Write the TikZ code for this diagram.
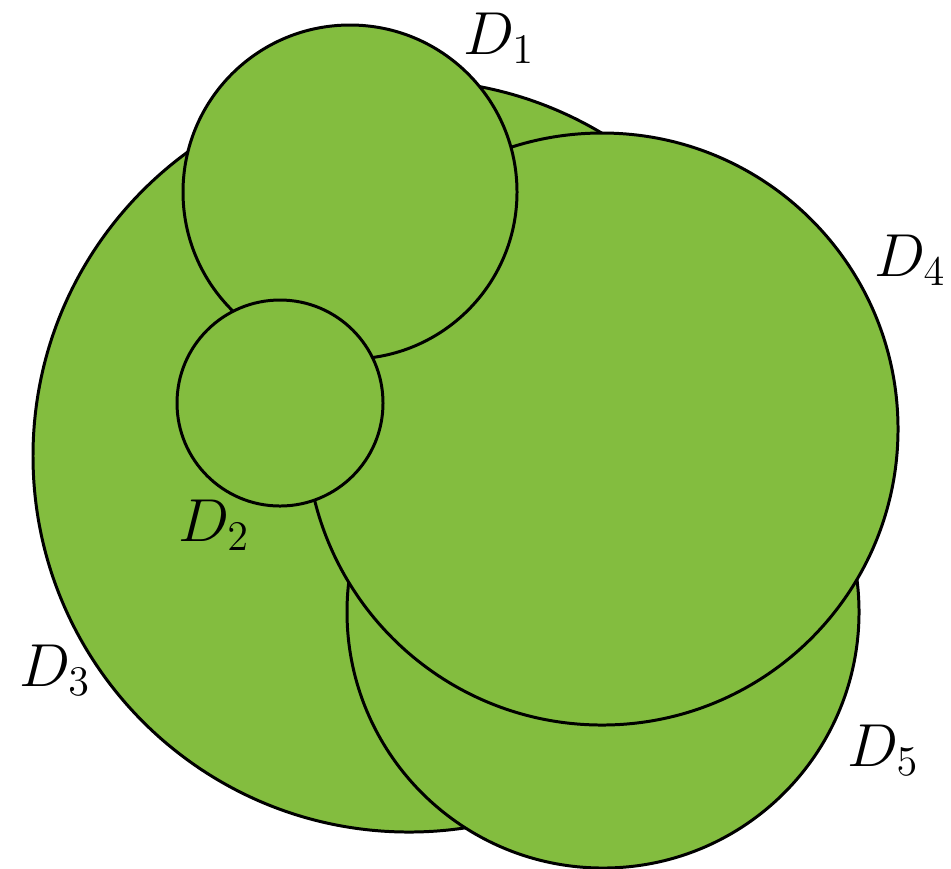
\documentclass[tikz,border=0pt]{standalone}
\usepackage{xcolor}
\definecolor{leaf}{HTML}{83BD3F}
\tikzset{disc/.style={circle,draw=black,fill=leaf,line width=0.85pt,inner sep=0pt,outer sep=0pt},
  lab/.style={font=\fontsize{18.5}{22}\selectfont}}
\begin{document}
\begin{tikzpicture}
  \useasboundingbox (0,0) rectangle (9.51,-8.68);
  \node[disc,minimum size=7.52cm] (d3) at (4.09,-4.56) {};
  \node[disc,minimum size=5.12cm] (d5) at (6.03,-6.12) {};
  \node[disc,minimum size=5.92cm] (d4) at (6.02,-4.29) {};
  \node[disc,minimum size=3.34cm] (d1) at (3.50,-1.92) {};
  \node[disc,minimum size=2.06cm] (d2) at (2.80,-4.03) {};
  \node[lab] (l1) at (4.99,-0.38) {$D_1$};
  \node[lab] (l2) at (2.14,-5.25) {$D_2$};
  \node[lab] (l3) at (0.55,-6.70) {$D_3$};
  \node[lab] (l4) at (9.10,-2.60) {$D_4$};
  \node[lab] (l5) at (8.83,-7.50) {$D_5$};
\end{tikzpicture}
\end{document}
